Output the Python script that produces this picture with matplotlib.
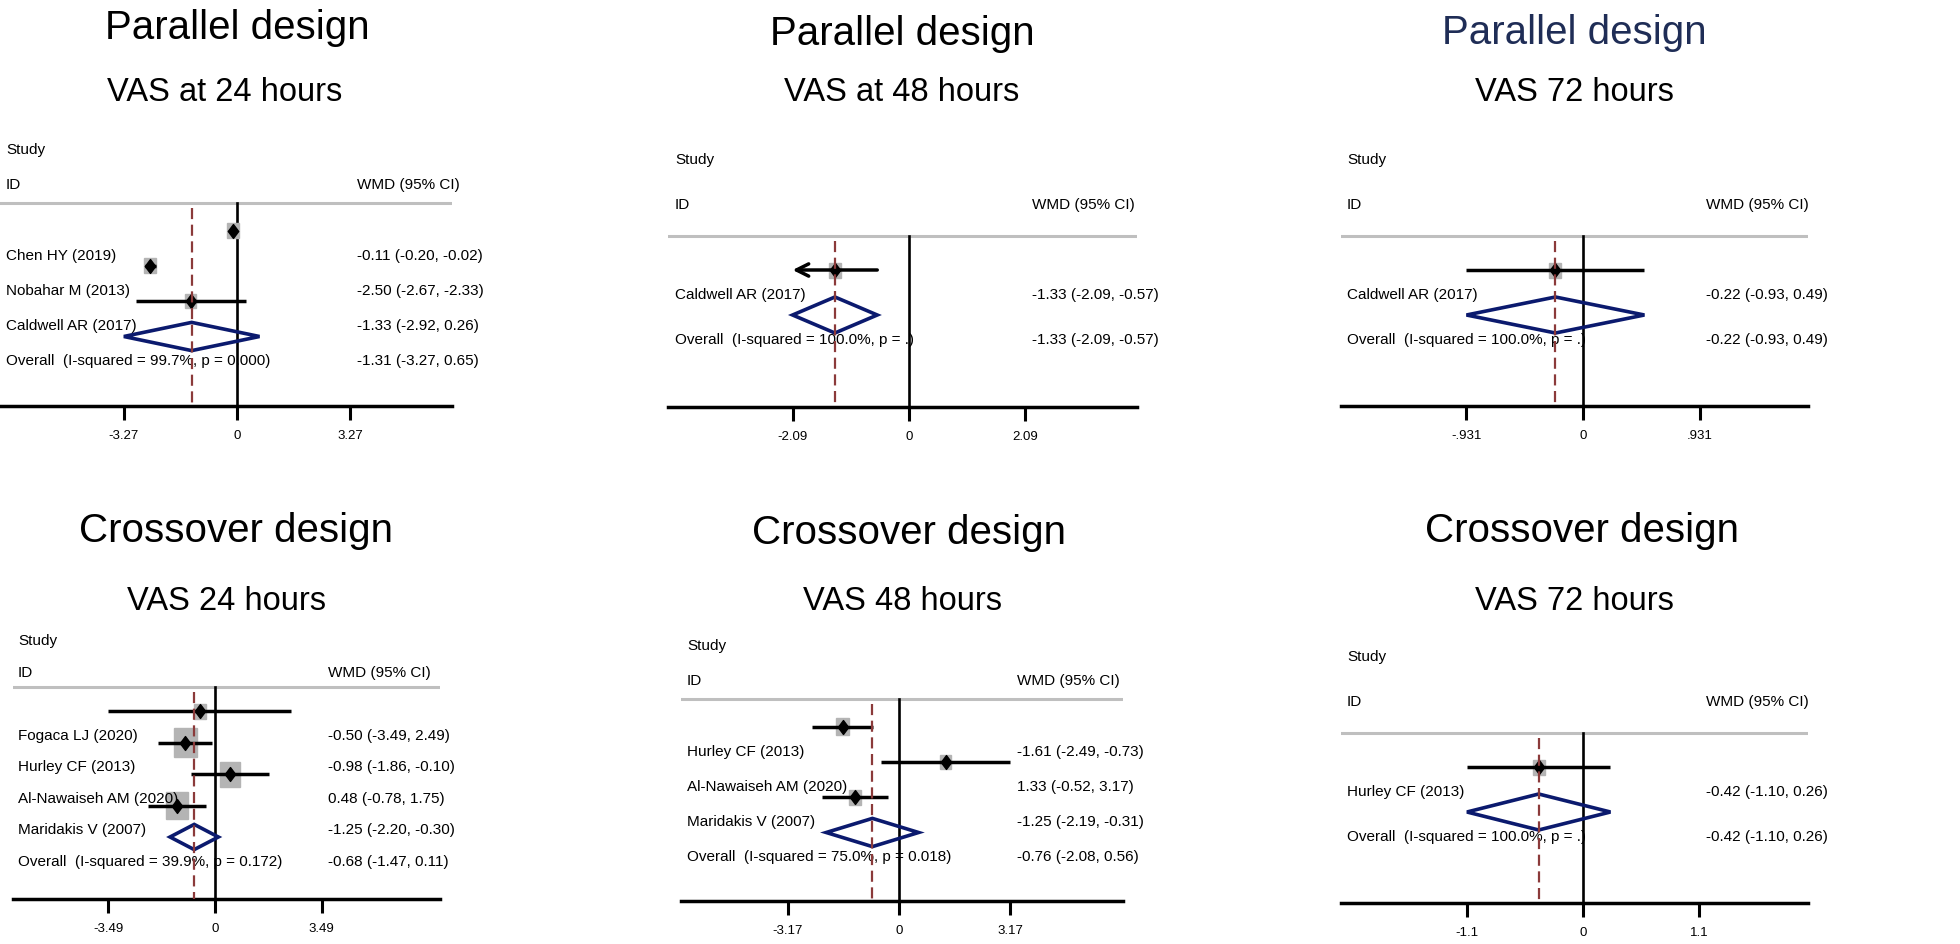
import numpy as np
import matplotlib
matplotlib.use("Agg")
import matplotlib.pyplot as plt
from matplotlib.patches import Polygon, Rectangle
from matplotlib.path import Path

plt.rcParams['font.family'] = ['Liberation Sans', 'DejaVu Sans']

# ---- data: one list per panel ----
# Parallel design, VAS at 24 hours
p1_studies = ["Chen HY (2019)", "Nobahar M (2013)", "Caldwell AR (2017)"]
p1_est = [-0.11, -2.50, -1.33]
p1_lo = [-0.20, -2.67, -2.92]
p1_hi = [-0.02, -2.33, 0.26]
p1_wt = [12, 12, 11]
p1_overall = [-1.31, -3.27, 0.65]
p1_het = "Overall  (I-squared = 99.7%, p = 0.000)"
p1_ticks = [-3.27, 0, 3.27]
p1_ticklabels = ["-3.27", "0", "3.27"]

# Parallel design, VAS at 48 hours
p2_studies = ["Caldwell AR (2017)"]
p2_est = [-1.33]
p2_lo = [-2.09]
p2_hi = [-0.57]
p2_wt = [12]
p2_overall = [-1.33, -2.09, -0.57]
p2_het = "Overall  (I-squared = 100.0%, p = .)"
p2_ticks = [-2.09, 0, 2.09]
p2_ticklabels = ["-2.09", "0", "2.09"]

# Parallel design, VAS 72 hours
p3_studies = ["Caldwell AR (2017)"]
p3_est = [-0.22]
p3_lo = [-0.93]
p3_hi = [0.49]
p3_wt = [12]
p3_overall = [-0.22, -0.93, 0.49]
p3_het = "Overall  (I-squared = 100.0%, p = .)"
p3_ticks = [-0.931, 0, 0.931]
p3_ticklabels = ["-.931", "0", ".931"]

# Crossover design, VAS 24 hours
p4_studies = ["Fogaca LJ (2020)", "Hurley CF (2013)", "Al-Nawaiseh AM (2020)", "Maridakis V (2007)"]
p4_est = [-0.50, -0.98, 0.48, -1.25]
p4_lo = [-3.49, -1.86, -0.78, -2.20]
p4_hi = [2.49, -0.10, 1.75, -0.30]
p4_wt = [12, 23, 20, 22]
p4_overall = [-0.68, -1.47, 0.11]
p4_het = "Overall  (I-squared = 39.9%, p = 0.172)"
p4_ticks = [-3.49, 0, 3.49]
p4_ticklabels = ["-3.49", "0", "3.49"]

# Crossover design, VAS 48 hours
p5_studies = ["Hurley CF (2013)", "Al-Nawaiseh AM (2020)", "Maridakis V (2007)"]
p5_est = [-1.61, 1.33, -1.25]
p5_lo = [-2.49, -0.52, -2.19]
p5_hi = [-0.73, 3.17, -0.31]
p5_wt = [13, 11, 12]
p5_overall = [-0.76, -2.08, 0.56]
p5_het = "Overall  (I-squared = 75.0%, p = 0.018)"
p5_ticks = [-3.17, 0, 3.17]
p5_ticklabels = ["-3.17", "0", "3.17"]

# Crossover design, VAS 72 hours
p6_studies = ["Hurley CF (2013)"]
p6_est = [-0.42]
p6_lo = [-1.10]
p6_hi = [0.26]
p6_wt = [12]
p6_overall = [-0.42, -1.10, 0.26]
p6_het = "Overall  (I-squared = 100.0%, p = .)"
p6_ticks = [-1.1, 0, 1.1]
p6_ticklabels = ["-1.1", "0", "1.1"]

W, H = 1960, 945
fig = plt.figure(figsize=(19.6, 9.45), dpi=100)

diamond = Path([(0, 1), (0.75, 0), (0, -1), (-0.75, 0), (0, 1)],
               [Path.MOVETO, Path.LINETO, Path.LINETO, Path.LINETO, Path.CLOSEPOLY])

FS = 11


def fmt(e, l, h):
    return f"{e:.2f} ({l:.2f}, {h:.2f})"


def draw_panel(lay, studies, est, lo, hi, wt, overall, het, ticks, ticklabels,
               title, subtitle, title_color="black", arrow_left=False):
    # layout in pixels of the reference
    x0, x1, zero, scale = lay["x"]
    y_study, y_id, sp, y_gray, y_axis = lay["y"]
    study_x, wmd_x = lay["text"]
    y_top = y_study - 25
    ax = fig.add_axes([x0 / W, 1 - y_axis / H, (x1 - x0) / W, (y_axis - y_top) / H])
    ax.set_xlim((x0 - zero) / scale, (x1 - zero) / scale)
    bottom = (y_axis - y_id) / sp
    ax.set_ylim(bottom, (y_top - y_id) / sp)
    ax.patch.set_visible(False)

    def px(x):
        return (x - zero) / scale

    g = (y_gray - y_id) / sp
    off = -24 / sp

    ax.axhline(g, color="#bfbfbf", lw=2.2, zorder=1)
    ax.plot([0, 0], [g, bottom], color="black", lw=1.9, zorder=1)
    ax.plot([overall[0], overall[0]], [g + 5 / sp, bottom], color="#8b3a3a", lw=1.6,
            ls=(0, (5, 2.5)), zorder=6)

    ax.text(px(study_x), -1, "Study", va="center", ha="left", fontsize=FS)
    ax.text(px(study_x), 0, "ID", va="center", ha="left", fontsize=FS)
    ax.text(px(wmd_x), 0, "WMD (95% CI)", va="center", ha="left", fontsize=FS)

    n = len(studies)
    for i in range(n):
        r = i + 2
        y = r + off
        w = wt[i] / scale
        h = wt[i] * 1.25 / sp
        ax.add_patch(Rectangle((est[i] - w / 2, y - h / 2), w, h, color="#b4b4b4", zorder=2))
        if arrow_left and i == 0:
            ax.annotate("", xy=(lo[i], y), xytext=(hi[i], y),
                        arrowprops=dict(arrowstyle="->", lw=2.5, color="black",
                                        mutation_scale=22, shrinkA=0, shrinkB=0),
                        zorder=3)
        else:
            ax.plot([lo[i], hi[i]], [y, y], color="black", lw=2.5, zorder=3,
                    solid_capstyle="butt")
        ax.plot(est[i], y, marker=diamond, ms=10, color="black", zorder=4)
        ax.text(px(study_x), r, studies[i], va="center", ha="left", fontsize=FS)
        ax.text(px(wmd_x), r, fmt(est[i], lo[i], hi[i]), va="center", ha="left", fontsize=FS)

    r = n + 2
    yo = r + off
    ax.add_patch(Polygon([(overall[1], yo), (overall[0], yo - 0.4), (overall[2], yo),
                          (overall[0], yo + 0.4)], closed=True, fill=False,
                         edgecolor="#0b1a6e", lw=2.6, zorder=5))
    ax.text(px(study_x), r, het, va="center", ha="left", fontsize=FS)
    ax.text(px(wmd_x), r, fmt(*overall), va="center", ha="left", fontsize=FS)

    for s in ["top", "left", "right"]:
        ax.spines[s].set_visible(False)
    ax.spines["bottom"].set_linewidth(2.5)
    ax.set_yticks([])
    ax.set_xticks(ticks)
    ax.set_xticklabels(ticklabels, fontsize=9.5)
    ax.tick_params(axis="x", length=10, width=2.2, pad=6.5)

    tcx, tby, scx, sby = lay["title"]
    fig.text(tcx / W, 1 - tby / H, title, ha="center", va="baseline", fontsize=29,
             color=title_color)
    fig.text(scx / W, 1 - sby / H, subtitle, ha="center", va="baseline", fontsize=23.5)


lay1 = {"x": (0, 452, 237, 34.6), "y": (150, 185, 35.3, 204, 407), "text": (6, 357),
        "title": (237, 39, 225, 101)}
lay2 = {"x": (668, 1137, 909, 55.7), "y": (160, 205, 45, 237, 408), "text": (675, 1032),
        "title": (902, 45, 902, 101)}
lay3 = {"x": (1341, 1808, 1583, 125.3), "y": (160, 205, 45, 237, 407), "text": (1347, 1706),
        "title": (1574, 44, 1574, 101)}
lay4 = {"x": (13, 440, 215, 30.6), "y": (643, 673, 31.5, 688, 900), "text": (18, 328),
        "title": (236, 542, 226, 610)}
lay5 = {"x": (681, 1123, 899, 35.0), "y": (646, 681, 35.3, 700, 902), "text": (687, 1017),
        "title": (909, 544, 902, 610)}
lay6 = {"x": (1341, 1808, 1583, 105.5), "y": (657, 702, 45, 734, 904), "text": (1347, 1706),
        "title": (1582, 542, 1574, 610)}

draw_panel(lay1, p1_studies, p1_est, p1_lo, p1_hi, p1_wt, p1_overall, p1_het,
           p1_ticks, p1_ticklabels, "Parallel design", "VAS at 24 hours")
draw_panel(lay2, p2_studies, p2_est, p2_lo, p2_hi, p2_wt, p2_overall, p2_het,
           p2_ticks, p2_ticklabels, "Parallel design", "VAS at 48 hours", arrow_left=True)
draw_panel(lay3, p3_studies, p3_est, p3_lo, p3_hi, p3_wt, p3_overall, p3_het,
           p3_ticks, p3_ticklabels, "Parallel design", "VAS 72 hours", title_color="#1f2d56")
draw_panel(lay4, p4_studies, p4_est, p4_lo, p4_hi, p4_wt, p4_overall, p4_het,
           p4_ticks, p4_ticklabels, "Crossover design", "VAS 24 hours")
draw_panel(lay5, p5_studies, p5_est, p5_lo, p5_hi, p5_wt, p5_overall, p5_het,
           p5_ticks, p5_ticklabels, "Crossover design", "VAS 48 hours")
draw_panel(lay6, p6_studies, p6_est, p6_lo, p6_hi, p6_wt, p6_overall, p6_het,
           p6_ticks, p6_ticklabels, "Crossover design", "VAS 72 hours")

fig.savefig("out.png", dpi=100)
